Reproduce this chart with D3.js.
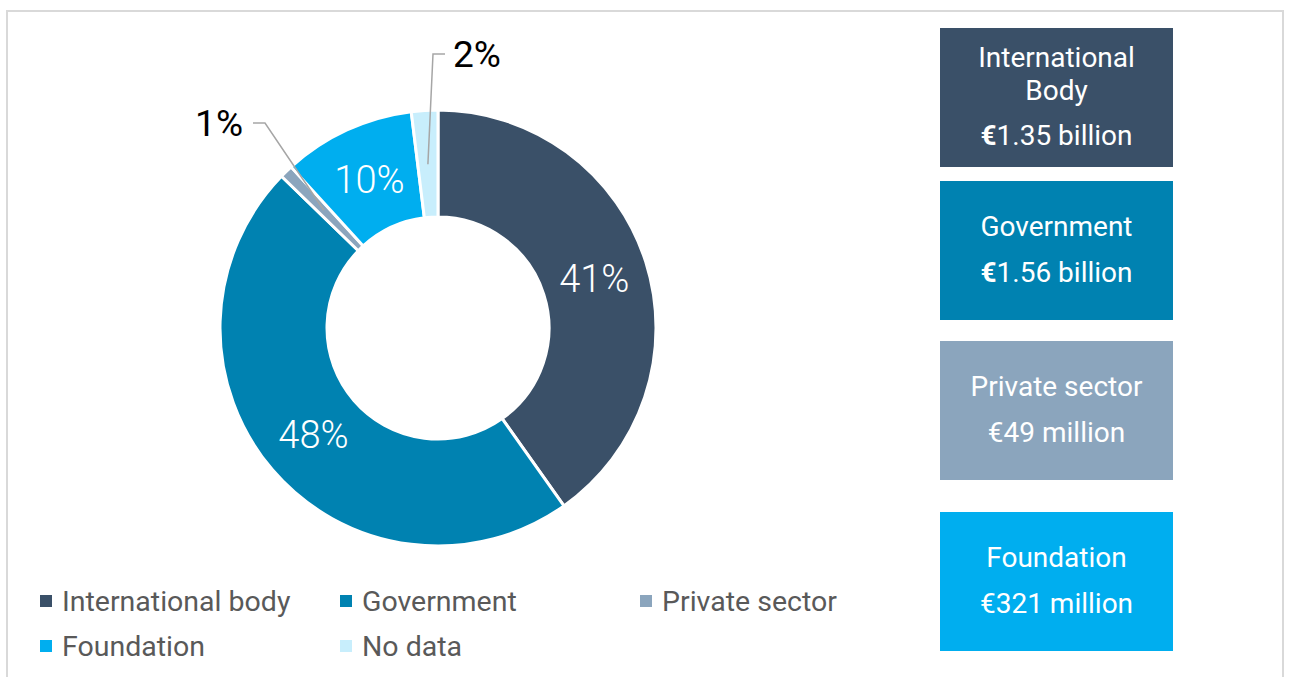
<!DOCTYPE html>
<html>
<head>
<meta charset="utf-8">
<script src="https://cdn.jsdelivr.net/npm/d3@7"></script>
<style>
  html, body { margin: 0; padding: 0; background: #fff; }
  svg { display: block; font-family: Roboto, "Noto Sans", sans-serif; }
</style>
</head>
<body>
<svg id="chart" width="1289" height="677"></svg>
<script>
// Funding sources, share of total (%)
const categories = ["International body", "Government", "Private sector", "Foundation", "No data"];
const shares = [41, 48, 1, 10, 2];
const colors = ["#3a5068", "#0082b1", "#8ba5bd", "#00aeef", "#c8eefc"];

// Amount panels on the right
const panelTitles = [["International", "Body"], ["Government"], ["Private sector"], ["Foundation"]];
const panelAmounts = ["1.35 billion", "1.56 billion", "49 million", "321 million"];
const boldEuro = [true, true, false, false];

const svg = d3.select("#chart");

// Outer frame (open at the bottom)
svg.append("path")
  .attr("d", "M7,677 V11 H1283 V677")
  .attr("fill", "none")
  .attr("stroke", "#d9d9d9")
  .attr("stroke-width", 2);

const cx = 438, cy = 328, rOuter = 218, rInner = 111, rLabel = 164;

const data = categories.map((c, i) => ({ name: c, value: shares[i], color: colors[i] }));
const pie = d3.pie().value(d => d.value).sort(null);
const arcs = pie(data);
const arc = d3.arc().innerRadius(rInner).outerRadius(rOuter);
const labelArc = d3.arc().innerRadius(rLabel).outerRadius(rLabel);

const g = svg.append("g").attr("transform", `translate(${cx},${cy})`);

g.selectAll("path.slice")
  .data(arcs)
  .join("path")
  .attr("class", "slice")
  .attr("d", arc)
  .attr("fill", d => d.data.color)
  .attr("stroke", "#fff")
  .attr("stroke-width", 3)
  .attr("stroke-linejoin", "miter");

// Labels inside large slices
const inside = arcs.filter(d => d.data.value >= 5);
g.selectAll("text.inlabel")
  .data(inside)
  .join("text")
  .attr("class", "inlabel")
  .attr("transform", d => `translate(${labelArc.centroid(d)})`)
  .attr("text-anchor", "middle")
  .attr("dy", "0.36em")
  .attr("fill", "#fff")
  .attr("font-size", 38)
  .attr("font-weight", 300)
  .text(d => d.data.value + "%");

// Leader-line labels for small slices
const outside = arcs.filter(d => d.data.value < 5);
const outsideLayout = {
  "Private sector": { elbow: [-173, -205], end: [-185, -205], anchor: "end", tx: -195 },
  "No data": { elbow: [-5, -274], end: [7, -274], anchor: "start", tx: 15 }
};
outside.forEach(d => {
  const L = outsideLayout[d.data.name];
  const c = labelArc.centroid(d);
  g.append("polyline")
    .attr("points", [c, L.elbow, L.end].map(p => p.join(",")).join(" "))
    .attr("fill", "none")
    .attr("stroke", "#a6a6a6")
    .attr("stroke-width", 1.5);
  g.append("text")
    .attr("x", L.tx)
    .attr("y", L.end[1])
    .attr("dy", "0.36em")
    .attr("text-anchor", L.anchor)
    .attr("fill", "#000")
    .attr("font-size", 37)
    .attr("font-weight", 400)
    .text(d.data.value + "%");
});

// Legend
const legendCols = [40, 340, 640];
const legendRows = [601, 646];
const legend = svg.append("g");
data.forEach((d, i) => {
  const x = legendCols[i % 3], y = legendRows[Math.floor(i / 3)];
  legend.append("rect")
    .attr("x", x).attr("y", y - 6)
    .attr("width", 12).attr("height", 12)
    .attr("fill", d.color);
  legend.append("text")
    .attr("x", x + 22).attr("y", y)
    .attr("dy", "0.36em")
    .attr("fill", "#595959")
    .attr("font-size", 28.5)
    .text(d.name);
});

// Amount panels
const panelTops = [28, 181, 341, 512];
const panelH = 139, panelX = 940, panelW = 233;
panelTitles.forEach((title, i) => {
  const top = panelTops[i];
  svg.append("rect")
    .attr("x", panelX).attr("y", top)
    .attr("width", panelW).attr("height", panelH)
    .attr("fill", colors[i]);
  const lineH = title.length > 1 ? 33 : 0;
  const midX = panelX + panelW / 2;
  const titleStart = title.length > 1 ? top + 29 : top + 45;
  title.forEach((t, j) => {
    svg.append("text")
      .attr("x", midX).attr("y", titleStart + j * lineH)
      .attr("dy", "0.36em")
      .attr("text-anchor", "middle")
      .attr("fill", "#fff")
      .attr("font-size", 28)
      .text(t);
  });
  const amt = svg.append("text")
    .attr("x", midX).attr("y", title.length > 1 ? top + 107 : top + 91)
    .attr("dy", "0.36em")
    .attr("text-anchor", "middle")
    .attr("fill", "#fff")
    .attr("font-size", 28);
  amt.append("tspan").attr("font-weight", boldEuro[i] ? 700 : 400).text("€");
  amt.append("tspan").text(panelAmounts[i]);
});
</script>
</body>
</html>
